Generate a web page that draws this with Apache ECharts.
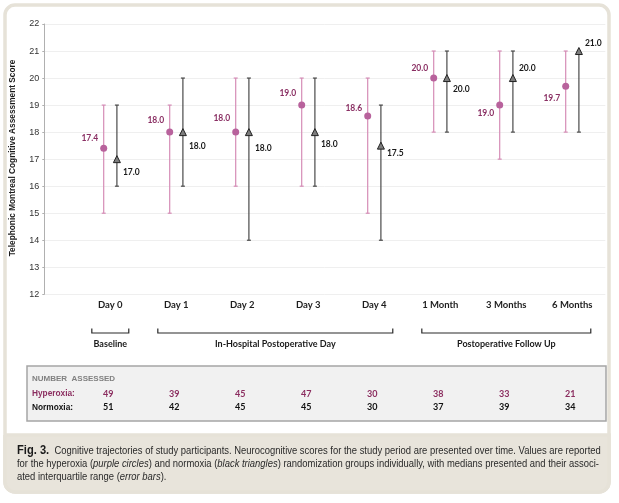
<!DOCTYPE html>
<html>
<head>
<meta charset="utf-8">
<script src="https://cdn.jsdelivr.net/npm/echarts@6/dist/echarts.min.js"></script>
<style>
html,body{margin:0;padding:0;background:#fff;}
#chart{width:619px;height:503px;}
</style>
</head>
<body>
<div id="chart"></div>
<script>
// ---------- data ----------
const categories = ['Day 0','Day 1','Day 2','Day 3','Day 4','1 Month','3 Months','6 Months'];
const hyperMedian = [17.4, 18.0, 18.0, 19.0, 18.6, 20.0, 19.0, 19.7];
const hyperQ1     = [15, 15, 16, 16, 15, 18, 17, 18];
const hyperQ3     = [19, 19, 20, 20, 20, 21, 21, 21];
const normoMedian = [17.0, 18.0, 18.0, 18.0, 17.5, 20.0, 20.0, 21.0];
const normoQ1     = [16, 16, 14, 16, 14, 18, 18, 18];
const normoQ3     = [19, 20, 20, 20, 19, 21, 21, 21];
const hyperN = [49, 39, 45, 47, 30, 38, 33, 21];
const normoN = [51, 42, 45, 45, 30, 37, 39, 34];
const yMin = 12, yMax = 22, yStep = 1;
const groups = [
  {name: 'Baseline', first: 0, last: 0},
  {name: 'In-Hospital Postoperative Day', first: 1, last: 4},
  {name: 'Postoperative Follow Up', first: 5, last: 7}
];
const yTitle = 'Telephonic Montreal Cognitive Assessment Score';

// ---------- styling / layout ----------
const HYP_BAR = '#d58cb6', HYP_DOT = '#b8629c', HYP_TXT = '#8a2f63';
const NOR_BAR = '#4a4a4a', NOR_TRI = '#7d7d7d', NOR_TXT = '#1a1a1a';
const SHIFT = 0.1;
// label nudges (vertical pixel offset of each value label)
const hyperLabelDy = [-10, -12, -14, -12, -8, -10, 8, 12];
const normoLabelDy = [13, 14, 16, 12, 8, 11, -10, -8];

const chart = echarts.init(document.getElementById('chart'), null, {renderer: 'canvas'});

function errRender(color) {
  return function (params, api) {
    const x = api.value(0), lo = api.value(1), hi = api.value(2);
    const a = api.coord([x, hi]), b = api.coord([x, lo]);
    const c = 2;
    const st = {stroke: color, lineWidth: 1.2};
    return {type: 'group', children: [
      {type: 'line', shape: {x1: a[0], y1: a[1], x2: b[0], y2: b[1]}, style: st},
      {type: 'line', shape: {x1: a[0]-c, y1: a[1], x2: a[0]+c, y2: a[1]}, style: st},
      {type: 'line', shape: {x1: b[0]-c, y1: b[1], x2: b[0]+c, y2: b[1]}, style: st}
    ]};
  };
}

const labelFont = {fontFamily: 'Lato', fontWeight: 'bold', fontSize: 8.5};

chart.setOption({
  animation: false,
  backgroundColor: 'transparent',
  grid: {left: 44.3, right: 13.7, top: 24, bottom: 208.7},
  xAxis: {
    type: 'value', min: 0, max: 8.5, interval: 1,
    axisLine: {show: false}, axisTick: {show: false}, splitLine: {show: false},
    axisLabel: {
      margin: 6, color: '#1e1e1e', fontFamily: 'Lato', fontWeight: 'bold', fontSize: 9.5,
      showMaxLabel: false,
      formatter: v => (Number.isInteger(v) && categories[v-1]) ? categories[v-1] : ''
    }
  },
  yAxis: {
    type: 'value', min: yMin, max: yMax, interval: yStep,
    axisLine: {show: true, lineStyle: {color: '#b0b0b0', width: 1}},
    axisTick: {show: true, length: 2, lineStyle: {color: '#b0b0b0'}},
    axisLabel: {margin: 5, color: '#333', fontFamily: 'Liberation Sans', fontSize: 9},
    splitLine: {show: true, lineStyle: {color: '#efefef', width: 1}}
  },
  series: [
    {
      type: 'custom', z: 1, renderItem: errRender(HYP_BAR),
      data: categories.map((c, i) => [i + 1 - SHIFT, hyperQ1[i], hyperQ3[i]])
    },
    {
      type: 'custom', z: 1, renderItem: errRender(NOR_BAR),
      data: categories.map((c, i) => [i + 1 + SHIFT, normoQ1[i], normoQ3[i]])
    },
    {
      type: 'scatter', z: 3, symbol: 'circle', symbolSize: 7,
      itemStyle: {color: HYP_DOT, opacity: 1},
      data: hyperMedian.map((v, i) => ({
        value: [i + 1 - SHIFT, v],
        label: {show: true, position: 'left', distance: 2, offset: [0, hyperLabelDy[i]],
          formatter: v.toFixed(1), color: HYP_TXT, ...labelFont}
      }))
    },
    {
      type: 'scatter', z: 3, symbol: 'triangle', symbolSize: 7,
      itemStyle: {color: NOR_TRI, borderColor: '#222', borderWidth: 1, opacity: 1},
      data: normoMedian.map((v, i) => ({
        value: [i + 1 + SHIFT, v],
        label: {show: true, position: 'right', distance: 2, offset: [0, normoLabelDy[i]],
          formatter: v.toFixed(1), color: NOR_TXT, ...labelFont}
      }))
    }
  ]
});

// ---------- annotations ----------
const px = v => chart.convertToPixel({xAxisIndex: 0}, v);
const g = [];

// panel frame
g.push({type: 'rect', z: -10, shape: {x: 5, y: 5, width: 604, height: 487, r: 10},
  style: {fill: '#fff', stroke: '#e6e2d8', lineWidth: 3.5}});
g.push({type: 'rect', z: -9, shape: {x: 5, y: 435, width: 604, height: 57, r: [0, 0, 10, 10]},
  style: {fill: '#e8e4db', stroke: '#e6e2d8', lineWidth: 3.5}});

// y title
g.push({type: 'text', x: 12.5, y: 158, rotation: Math.PI / 2,
  style: {text: yTitle, fill: '#1a1a1a', font: 'bold 8.3px "Liberation Sans"',
    textAlign: 'center', textVerticalAlign: 'middle'}});

// brackets
const PAD = 0.28, bTop = 328.5, bBot = 333;
groups.forEach(gr => {
  const x1 = px(gr.first + 1 - PAD), x2 = px(gr.last + 1 + PAD);
  g.push({type: 'polyline', shape: {points: [[x1, bTop], [x1, bBot], [x2, bBot], [x2, bTop]]},
    style: {stroke: '#2a2a2a', lineWidth: 1.2, fill: null}});
  g.push({type: 'text', x: (x1 + x2) / 2, y: 344,
    style: {text: gr.name, fill: '#1a1a1a', font: 'bold 9px Lato',
      textAlign: 'center', textVerticalAlign: 'middle'}});
});

// table of counts
g.push({type: 'rect', shape: {x: 27, y: 366, width: 579, height: 55},
  style: {fill: '#f1f1f1', stroke: '#a5a5a5', lineWidth: 1.5}});
g.push({type: 'text', x: 32, y: 379,
  style: {text: 'NUMBER  ASSESSED', fill: '#808080', font: 'bold 8px "Liberation Sans"',
    textAlign: 'left', textVerticalAlign: 'middle'}});
g.push({type: 'text', x: 32, y: 393.7,
  style: {text: 'Hyperoxia:', fill: '#8b2d5f', font: 'bold 8.3px "Liberation Sans"',
    textAlign: 'left', textVerticalAlign: 'middle'}});
g.push({type: 'text', x: 32, y: 407.3,
  style: {text: 'Normoxia:', fill: '#111', font: 'bold 8.3px "Liberation Sans"',
    textAlign: 'left', textVerticalAlign: 'middle'}});
categories.forEach((c, i) => {
  const x = px(i + 1) - 2;
  g.push({type: 'text', x: x, y: 393.7,
    style: {text: String(hyperN[i]), fill: '#8b2d5f', font: 'bold 9px Lato',
      textAlign: 'center', textVerticalAlign: 'middle'}});
  g.push({type: 'text', x: x, y: 407.3,
    style: {text: String(normoN[i]), fill: '#111', font: 'bold 9px Lato',
      textAlign: 'center', textVerticalAlign: 'middle'}});
});

// caption
const capLines = ['{b|Fig. 3.}  Cognitive trajectories of study participants. Neurocognitive scores for the study period are presented over time. Values are reported',
  'for the hyperoxia ({i|purple circles}) and normoxia ({i|black triangles}) randomization groups individually, with medians presented and their associ-',
  'ated interquartile range ({i|error bars}).'];
const plain2 = 'for the hyperoxia (purple circles) and normoxia (black triangles) randomization groups individually, with medians presented and their associ-';
const CAP_FONT = 10.6;
const ctx = document.createElement('canvas').getContext('2d');
ctx.font = CAP_FONT + 'px "Liberation Sans"';
const sx = 582 / ctx.measureText(plain2).width;
const capY = [451, 464, 477.5];
capLines.forEach((t, k) => {
  g.push({type: 'text', x: 17, y: capY[k], scaleX: sx, scaleY: 1,
    style: {text: t, fill: '#2a2a2a', font: CAP_FONT + 'px "Liberation Sans"',
      textAlign: 'left', textVerticalAlign: 'middle',
      rich: {
        b: {font: 'bold 12.5px "Liberation Sans"', fill: '#1a1a1a'},
        i: {font: 'italic ' + CAP_FONT + 'px "Liberation Sans"', fill: '#2a2a2a'}
      }}});
});

chart.setOption({graphic: {elements: g}});
</script>
</body>
</html>
